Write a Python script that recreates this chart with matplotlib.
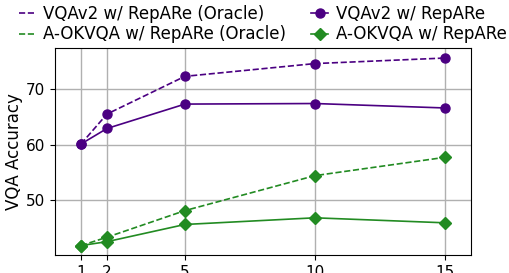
import matplotlib
matplotlib.use('Agg')
import matplotlib.pyplot as plt

# number of retrieved examples
k_values = [1, 2, 5, 10, 15]

# accuracies
vqav2_oracle = [60.1, 65.5, 72.3, 74.6, 75.6]
vqav2 = [60.1, 62.9, 67.3, 67.4, 66.6]
aokvqa_oracle = [41.8, 43.3, 48.1, 54.4, 57.7]
aokvqa = [41.8, 42.5, 45.6, 46.8, 45.9]

purple = '#4B0082'
green = '#228B22'

fig, ax = plt.subplots(figsize=(5.09, 2.73), dpi=100)

ax.plot(k_values, vqav2_oracle, '--', color=purple, lw=1.2, label='VQAv2 w/ RepARe (Oracle)')
ax.plot(k_values, vqav2_oracle, 'o', color=purple, ms=6.5)
ax.plot(k_values, aokvqa_oracle, '--', color=green, lw=1.2, label='A-OKVQA w/ RepARe (Oracle)')
ax.plot(k_values, aokvqa_oracle, 'D', color=green, ms=6.5)
ax.plot(k_values, vqav2, '-', marker='o', color=purple, lw=1.2, ms=6.5, label='VQAv2 w/ RepARe')
ax.plot(k_values, aokvqa, '-', marker='D', color=green, lw=1.2, ms=6.5, label='A-OKVQA w/ RepARe')

ax.set_xlim(0, 16)
ax.set_ylim(40.1, 77.4)
ax.set_xticks(k_values)
ax.set_yticks([50, 60, 70])
ax.tick_params(labelsize=11)
ax.set_ylabel('VQA Accuracy', fontsize=12, labelpad=2)
ax.grid(True, color='#b0b0b0', lw=1)
ax.set_axisbelow(True)

ax.legend(loc='lower center', bbox_to_anchor=(0.5, 0.99), ncol=2, frameon=False, fontsize=12,
          handlelength=1.0, handletextpad=0.45, columnspacing=1.5, labelspacing=0.15,
          borderaxespad=0.0)

fig.subplots_adjust(left=0.108, right=0.925, top=0.824, bottom=0.066)
fig.savefig('out.png', dpi=100)
